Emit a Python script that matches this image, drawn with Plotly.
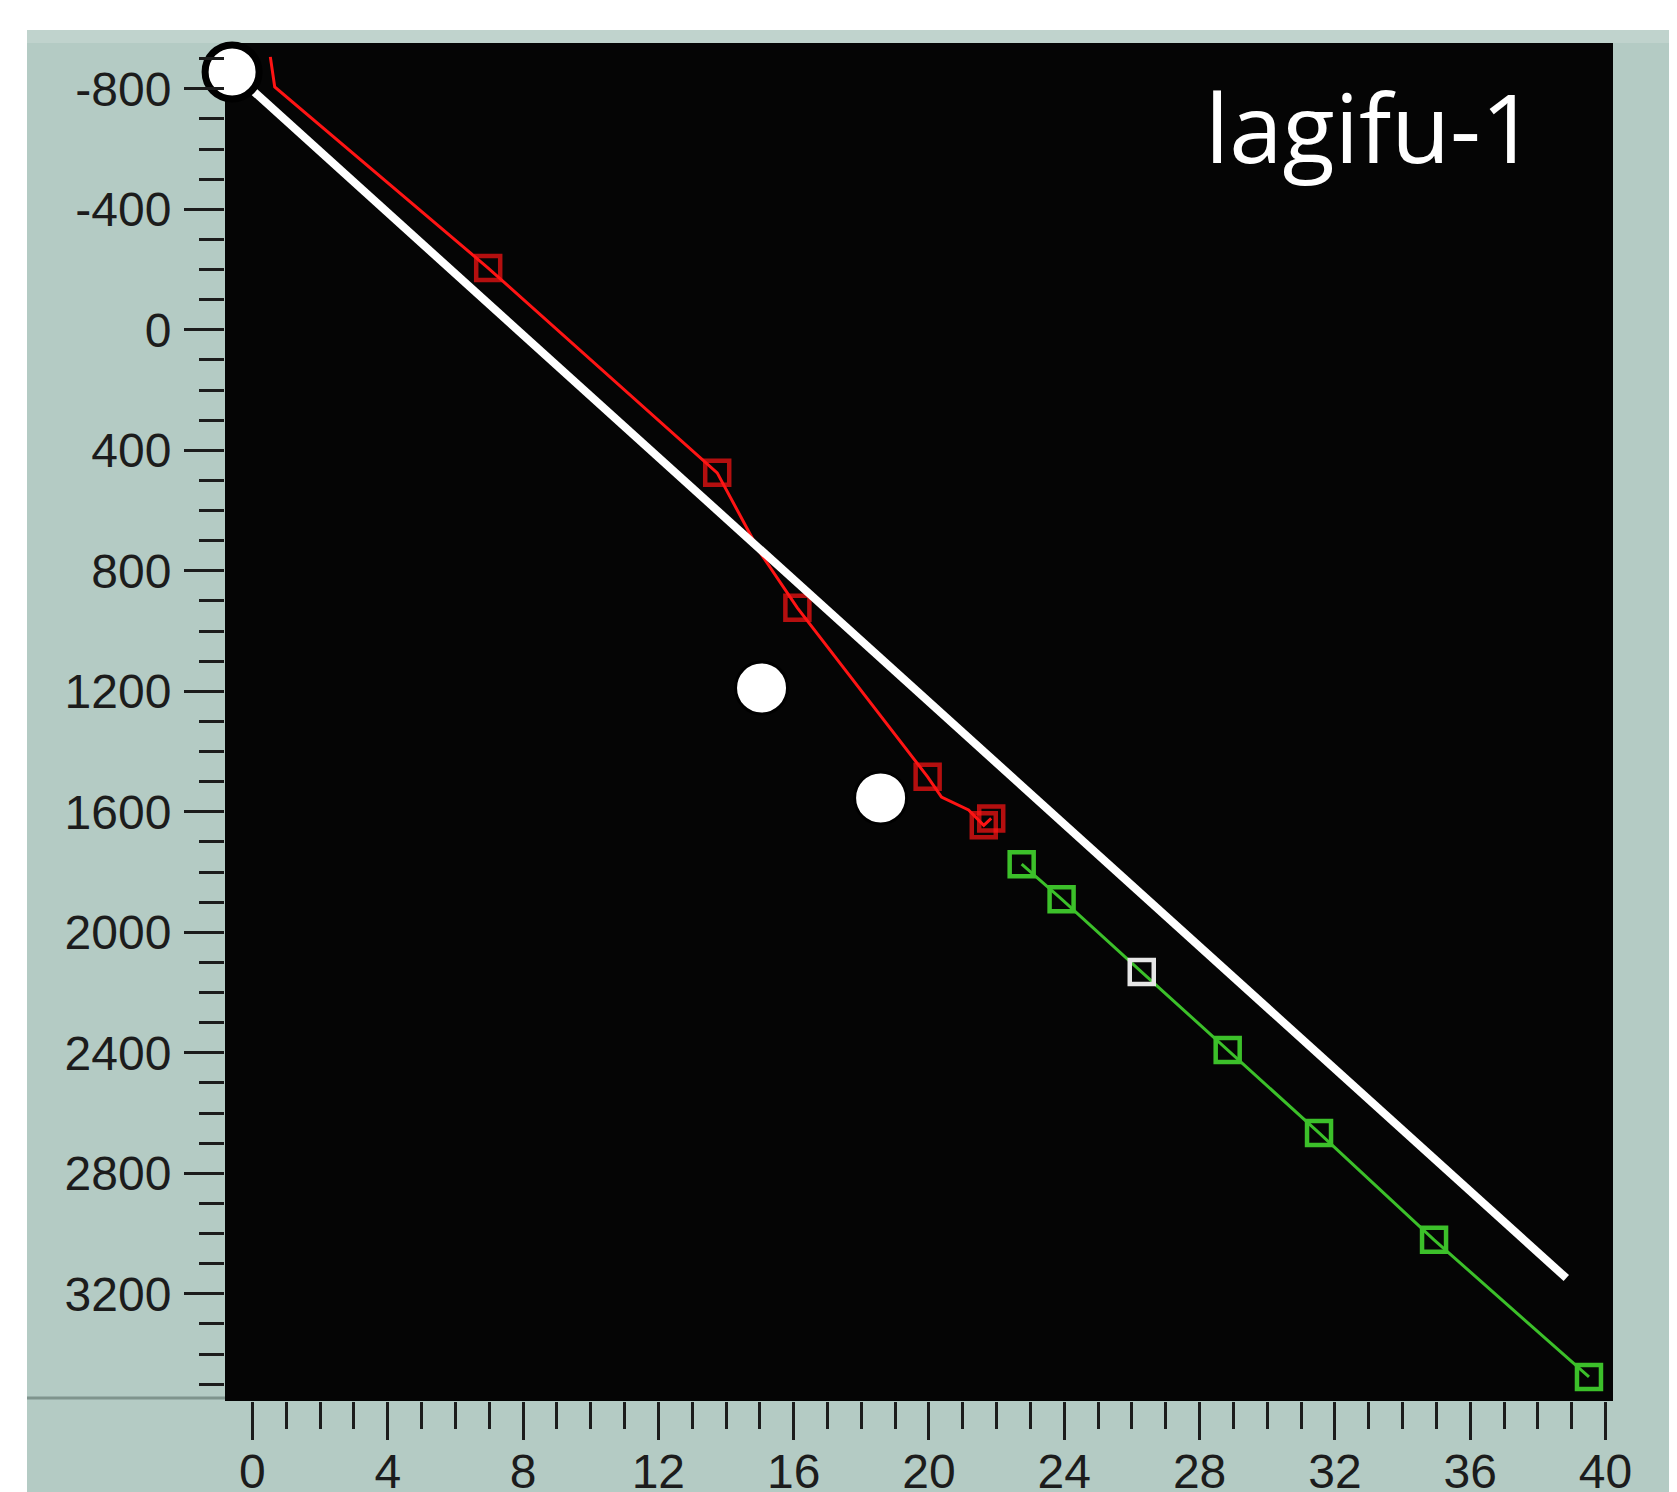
import plotly.graph_objects as go

# ---------------- data ----------------
x_tick_vals = [0, 4, 8, 12, 16, 20, 24, 28, 32, 36, 40]
x_tick_text = ["0", "4", "8", "12", "16", "20", "24", "28", "32", "36", "40"]
y_tick_vals = [-800, -400, 0, 400, 800, 1200, 1600, 2000, 2400, 2800, 3200]
y_tick_text = ["-800", "-400", "0", "400", "800", "1200", "1600", "2000", "2400", "2800", "3200"]

# red curve (vertices; 1 = sample square)
red_x = [0.53, 0.66, 6.97, 13.74, 15.00, 16.11, 19.96, 20.37, 21.17, 21.62, 21.84]
red_y = [-906, -806, -205, 475, 738, 923, 1484, 1551, 1594, 1645, 1622]
red_sample = [0, 0, 1, 1, 0, 1, 1, 0, 0, 1, 1]

# green curve
green_x = [22.74, 23.92, 26.29, 28.83, 31.53, 34.93, 39.51]
green_y = [1774, 1890, 2132, 2391, 2666, 3021, 3476]
green_highlight = [0, 0, 1, 0, 0, 0, 0]

# white trend line
trend_x = [-0.60, 38.84]
trend_y = [-856, 3148]

# white points
pts_x = [15.05, 18.57]
pts_y = [1189, 1554]

# surface point
top_x = [-0.60]
top_y = [-856]

title_text = "lagifu-1"

# ---------------- style ----------------
RED = "#ff1414"
GREEN = "#3cc02a"
PANEL = "#b4cbc4"
TXT = "#1c1c1c"

fig = go.Figure()

fig.add_trace(go.Scatter(
    x=red_x, y=red_y, mode="lines+markers",
    line=dict(color=RED, width=3),
    marker=dict(symbol="square-open", size=[24 if s else 0 for s in red_sample],
                color=RED, line=dict(width=4.5, color=RED)),
    showlegend=False, hoverinfo="skip"))

fig.add_trace(go.Scatter(
    x=green_x, y=green_y, mode="lines+markers",
    line=dict(color=GREEN, width=3),
    marker=dict(symbol="square-open", size=24,
                color=["#e6e6e6" if h else GREEN for h in green_highlight],
                line=dict(width=4.5)),
    showlegend=False, hoverinfo="skip"))

fig.add_trace(go.Scatter(
    x=trend_x, y=trend_y, mode="lines",
    line=dict(color="white", width=8),
    showlegend=False, hoverinfo="skip"))

fig.add_trace(go.Scatter(
    x=pts_x, y=pts_y, mode="markers",
    marker=dict(symbol="circle", size=52, color="white",
                line=dict(width=3, color="#000000")),
    showlegend=False, hoverinfo="skip"))

fig.add_trace(go.Scatter(
    x=top_x, y=top_y, mode="markers", cliponaxis=False,
    marker=dict(symbol="circle", size=54, color="white",
                line=dict(width=7, color="#000000")),
    showlegend=False, hoverinfo="skip"))

fig.add_annotation(
    x=0.8256, y=0.9396, xref="paper", yref="paper",
    text=title_text, showarrow=False, xanchor="center", yanchor="middle",
    font=dict(family="Open Sans", size=96, color="white"))

# the page body adds an 8px offset; margins are chosen so the plot lands where the reference has it
W, H = 1677, 1492
L, T = 217, 35
pw, ph = 1388, 1358
R, B = W - L - pw, H - T - ph
OFF = 8


def px(xs):  # screen x -> paper
    return (xs - OFF - L) / pw


def py(ys):  # screen y -> paper
    return 1 - (ys - OFF - T) / ph


shapes = [
    dict(type="rect", xref="paper", yref="paper", x0=-1, x1=2, y0=py(30), y1=1.5,
         fillcolor="white", line=dict(width=0), layer="above"),
    dict(type="rect", xref="paper", yref="paper", x0=-1, x1=px(27), y0=-1, y1=1.5,
         fillcolor="white", line=dict(width=0), layer="above"),
    dict(type="rect", xref="paper", yref="paper", x0=px(27), x1=2, y0=1.0, y1=py(30),
         fillcolor="#c0d3cd", line=dict(width=0), layer="below"),
    dict(type="line", xref="paper", yref="paper", x0=px(27), x1=0, y0=py(1398), y1=py(1398),
         line=dict(color="#7f948d", width=3), layer="above"),
]

fig.update_layout(
    width=W, height=H,
    margin=dict(l=L, r=R, t=T, b=B, pad=0, autoexpand=False),
    paper_bgcolor=PANEL,
    plot_bgcolor="#050505",
    shapes=shapes,
    xaxis=dict(
        automargin=False,
        range=[-0.81, 40.22], tickmode="array", tickvals=x_tick_vals, ticktext=x_tick_text,
        ticks="outside", ticklen=38, tickwidth=3, tickcolor=TXT,
        showgrid=False, zeroline=False, showline=False,
        tickfont=dict(family="Liberation Sans", size=48, color=TXT),
        ticklabelstandoff=-10,
        minor=dict(tickmode="linear", tick0=0, dtick=1, ticks="outside", ticklen=27,
                   tickwidth=3, tickcolor=TXT, showgrid=False),
    ),
    yaxis=dict(
        automargin=False,
        range=[3556, -952], tickmode="array", tickvals=y_tick_vals, ticktext=y_tick_text,
        ticks="outside", ticklen=40, tickwidth=3, tickcolor=TXT,
        showgrid=False, zeroline=False, showline=False,
        tickfont=dict(family="Liberation Sans", size=48, color=TXT),
        ticklabelstandoff=3,
        minor=dict(tickmode="linear", tick0=0, dtick=100, ticks="outside", ticklen=25,
                   tickwidth=3, tickcolor=TXT, showgrid=False),
    ),
)

fig.write_html("out.html")
